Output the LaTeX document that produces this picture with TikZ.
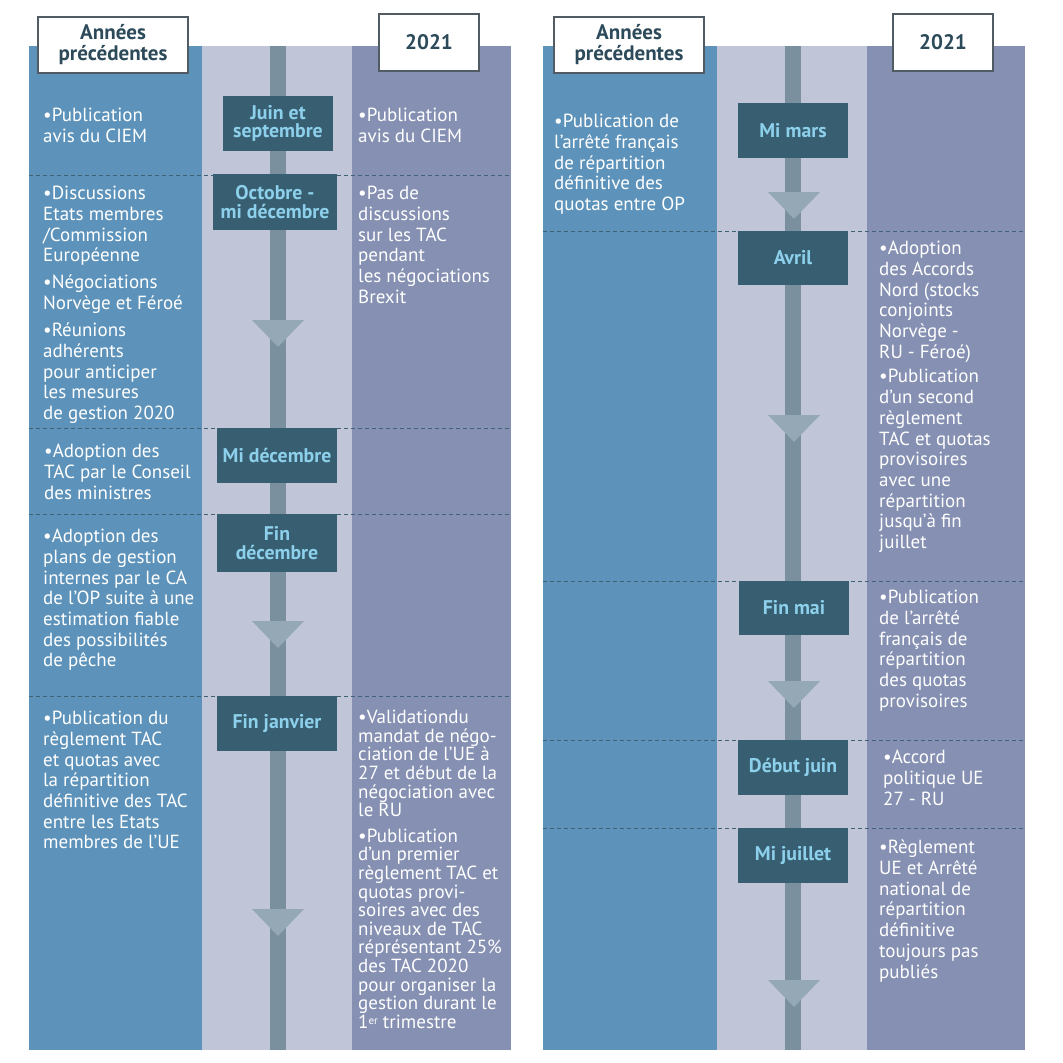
\documentclass[tikz,border=0pt]{standalone}
\usepackage{fontspec}
\setmainfont{PT Sans}
\usetikzlibrary{positioning}

\definecolor{colprev}{HTML}{5D93BA}
\definecolor{colmid}{HTML}{C0C5D8}
\definecolor{colyear}{HTML}{8590B2}
\definecolor{spinecol}{HTML}{7A909F}
\definecolor{tricol}{HTML}{94A8B6}
\definecolor{periodcol}{HTML}{385F71}
\definecolor{periodtext}{HTML}{8DD0EC}
\definecolor{headtext}{HTML}{2D4A5A}
\definecolor{headline}{HTML}{505B63}
\definecolor{sepcol}{HTML}{3F6274}

\newcommand\notefont{\fontsize{19}{20.7}\selectfont}
\newcommand\tightfont{\fontsize{19}{18.6}\selectfont}
\newcommand\periodfont{\fontsize{19.8}{18.5}\selectfont\bfseries}
\newcommand\headfont{\fontsize{21}{21}\selectfont\bfseries}
\newcommand\ordinal[1]{\raisebox{3.5pt}{\fontsize{11}{11}\selectfont #1}}

\begin{document}
\begin{tikzpicture}[
        x=1pt, y=-1pt,
        every node/.style={inner sep=0pt, align=center},
        period/.style={fill=periodcol, text=periodtext, font=\periodfont, minimum width=120pt, minimum height=55pt},
        header/.style={draw=headline, line width=2pt, fill=white, text=headtext, font=\headfont, minimum height=56pt},
        note/.style={anchor=north west, align=left, text=white, font=\notefont},
        spine/.style={draw=spinecol, line width=16pt},
        sep/.style={draw=sepcol, line width=1pt, dash pattern=on 4pt off 3pt},
        tri/.style={fill=tricol}
    ]
    \useasboundingbox (0,0) rectangle (1063,1063);

    % Columns
    \fill[colprev] (29,46) rectangle (202,1050);
    \fill[colmid] (202,46) rectangle (352,1050);
    \fill[colyear] (352,46) rectangle (511,1050);
    \fill[colprev] (543,46) rectangle (717,1050);
    \fill[colmid] (717,46) rectangle (867,1050);
    \fill[colyear] (867,46) rectangle (1025,1050);

    % Separators
    \foreach \y in {175,428,514,696} \draw[sep] (29,\y) -- (511,\y);
    \foreach \y in {231,581,740,828} \draw[sep] (543,\y) -- (1025,\y);

    % Spines
    \coordinate (topL) at (278,46);
    \coordinate (botL) at (278,1050);
    \coordinate (topR) at (793,46);
    \coordinate (botR) at (793,1050);
    \draw[spine] (topL) -- (botL);
    \draw[spine] (topR) -- (botR);

    % Arrow heads
    \foreach \x/\y in {278/320, 278/621, 278/909, 794/192, 794/415, 794/681, 794/980}
        \fill[tri] (\x,\y) ++(-26,0) -- ++(52,0) -- ++(-26,27) -- cycle;

    % Periods
    \node[period, minimum width=110pt] (junsep) at (278,123.5) {Juin et\\septembre};
    \node[period, minimum width=124pt, minimum height=56pt] (octdec) at (275,202) {Octobre -\\mi décembre};
    \node[period] (midec) at (277,455.5) {Mi décembre};
    \node[period, minimum height=58pt] (findec) at (277,543) {Fin\\décembre};
    \node[period] (finjan) at (277,723.5) {Fin janvier};

    \node[period, minimum width=110pt] (mimars) at (793,130.5) {Mi mars};
    \node[period, minimum width=110pt, minimum height=54pt] (avril) at (793,258) {Avril};
    \node[period, minimum width=110pt, minimum height=54pt] (finmai) at (794,608) {Fin mai};
    \node[period, minimum width=110pt] (debjuin) at (793,767.5) {Début juin};
    \node[period, minimum width=110pt] (mijuil) at (793,855.5) {Mi juillet};

    % Headers
    \node[header, minimum width=150pt] (prevL) at (113,45) {Années\\précédentes};
    \node[header, minimum width=100pt, minimum height=57pt] (yearL) at (429,42.5) {2021};
    \node[header, minimum width=150pt] (prevR) at (629,45) {Années\\précédentes};
    \node[header, minimum width=100pt, minimum height=57pt] (yearR) at (943,42.5) {2021};

    % Notes, left panel
    \node[note] (pubL) at (43,108) {•Publication\\avis du CIEM};
    \node[note] (discL) at (43,186) {•Discussions\\Etats membres\\/Commission\\Européenne\\[6pt]
        •Négociations\\Norvège et Féroé\\[7pt]
        •Réunions\\adhérents\\pour anticiper\\les mesures\\de gestion 2020};
    \node[note] (tacL) at (44,444) {•Adoption des\\TAC par le Conseil\\des ministres};
    \node[note] (plansL) at (43,529) {•Adoption des\\plans de gestion\\internes par le CA\\de l'OP suite à une\\estimation fiable\\des possibilités\\de pêche};
    \node[note] (reglL) at (43,711) {•Publication du\\règlement TAC\\et quotas avec\\la répartition\\définitive des TAC\\entre les Etats\\membres de l'UE};

    \node[note] (pubY) at (358,108) {•Publication\\avis du CIEM};
    \node[note] (brexY) at (358,186) {•Pas de\\discussions\\sur les TAC\\pendant\\les négociations\\Brexit};
    \node[note, font=\tightfont] (mandY) at (358,710) {•Validationdu\\mandat de négo-\\ciation de l'UE à\\27 et début de la\\négociation avec\\le RU\\[7pt]
        •Publication\\d'un premier\\règlement TAC et\\quotas provi-\\soires avec des\\niveaux de TAC\\réprésentant 25\%\\des TAC 2020\\pour organiser la\\gestion durant le\\1\ordinal{er} trimestre};

    % Notes, right panel
    \node[note] (arrR) at (554,114) {•Publication de\\l'arrêté français\\de répartition\\définitive des\\quotas entre OP};
    \node[note] (accR) at (879,241) {•Adoption\\des Accords\\Nord (stocks\\conjoints\\Norvège -\\RU - Féroé)\\[4pt]
        •Publication\\d'un second\\règlement\\TAC et quotas\\provisoires\\avec une\\répartition\\jusqu'à fin\\juillet};
    \node[note] (provR) at (879,590) {•Publication\\de l'arrêté\\français de\\répartition\\des quotas\\provisoires};
    \node[note] (ueR) at (883,750) {•Accord\\politique UE\\27 - RU};
    \node[note] (regR) at (879,840) {•Règlement\\UE et Arrêté\\national de\\répartition\\définitive\\toujours pas\\publiés};

\end{tikzpicture}
\end{document}
